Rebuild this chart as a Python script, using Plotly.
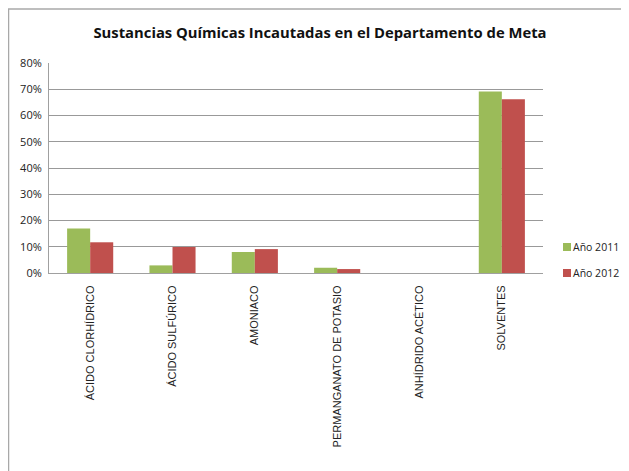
import plotly.graph_objects as go

categories = ["ÁCIDO CLORHÍDRICO", "ÁCIDO SULFÚRICO", "AMONIACO",
              "PERMANGANATO DE POTASIO", "ANHÍDRIDO ACÉTICO", "SOLVENTES"]
values_2011 = [0.170, 0.029, 0.080, 0.020, 0.0, 0.691]
values_2012 = [0.117, 0.099, 0.091, 0.015, 0.0, 0.662]
series_names = ["Año 2011", "Año 2012"]
series_colors = ["#9BBB59", "#C0504D"]
tick_vals = [0, 0.1, 0.2, 0.3, 0.4, 0.5, 0.6, 0.7, 0.8]

# page has an 8px body margin; figure sized to fill the rest of the window
OFF = 8
W, H = 629 - OFF, 471 - OFF
L, R, T, B = 49 - OFF, 86, 63 - OFF, 198
pw = W - L - R
ph = H - T - B


def px_x(page_x):
    return (page_x - OFF - L) / pw


def px_y(page_y):
    return (H - B - (page_y - OFF)) / ph


fig = go.Figure()
fig.add_trace(go.Bar(x=categories, y=values_2011, name=series_names[0],
                     marker=dict(color=series_colors[0], line=dict(width=0))))
fig.add_trace(go.Bar(x=categories, y=values_2012, name=series_names[1],
                     marker=dict(color=series_colors[1], line=dict(width=0))))

fig.update_layout(
    width=W, height=H,
    margin=dict(l=L, r=R, t=T, b=B, autoexpand=False),
    paper_bgcolor="white", plot_bgcolor="white",
    barmode="group", bargap=0.44, bargroupgap=0,
    title=dict(text="<b>Sustancias Químicas Incautadas en el Departamento de Meta</b>",
               x=(320 - OFF) / W, xanchor="center", y=1 - (33 - OFF) / H, yanchor="middle",
               font=dict(family="'Open Sans', sans-serif", size=14.8, color="#111")),
    showlegend=False,
    xaxis=dict(tickangle=-90, showgrid=False, showline=True, linecolor="#A0A0A0",
               linewidth=1, ticks="",
               tickfont=dict(family="'Liberation Sans', Arial, sans-serif", size=11, color="#222"),
               ticklabelstandoff=7),
    yaxis=dict(range=[0, 0.8], tickvals=tick_vals, tickformat=".0%",
               showgrid=True, gridcolor="#999999", gridwidth=1,
               showline=True, linecolor="#A0A0A0", linewidth=1, ticks="",
               zeroline=False, ticklabelstandoff=4,
               tickfont=dict(family="'Open Sans', sans-serif", size=11, color="#222")),
)

# legend drawn to match the reference placement
legend_y = [247, 273]
for name, color, py in zip(series_names, series_colors, legend_y):
    fig.add_shape(type="rect", xref="paper", yref="paper",
                  x0=px_x(563), x1=px_x(571), y0=px_y(py + 4), y1=px_y(py - 4),
                  fillcolor=color, line=dict(width=0))
    fig.add_annotation(text=name, xref="paper", yref="paper",
                       x=px_x(571), y=px_y(py), xanchor="left", yanchor="middle",
                       showarrow=False,
                       font=dict(family="'Open Sans', sans-serif", size=10.5, color="#222"))

# outer chart border (left and top edges visible)
fig.add_shape(type="line", xref="paper", yref="paper",
              x0=px_x(8.5), x1=px_x(8.5), y0=px_y(480), y1=px_y(9),
              line=dict(color="#A8A8A8", width=1.5))
fig.add_shape(type="line", xref="paper", yref="paper",
              x0=px_x(8), x1=px_x(640), y0=px_y(9), y1=px_y(9),
              line=dict(color="#A8A8A8", width=1.5))

fig.write_html("out.html")
